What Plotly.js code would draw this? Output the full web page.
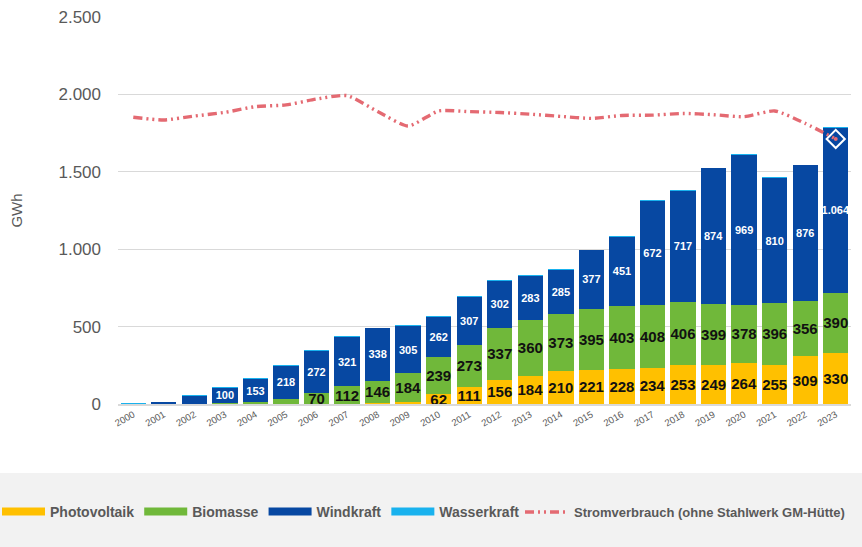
<!DOCTYPE html>
<html>
<head>
<meta charset="utf-8">
<script src="https://cdn.plot.ly/plotly-3.0.1.min.js"></script>
<style>
  html, body { margin: 0; padding: 0; }
  body { width: 862px; height: 547px; overflow: hidden;
         background: linear-gradient(to bottom, #ffffff 0px, #ffffff 473px, #f2f2f2 473px, #f2f2f2 547px); }
  #chart { width: 862px; height: 547px; }
</style>
</head>
<body>
<div id="chart"></div>
<script>
const years = ['2000','2001','2002','2003','2004','2005','2006','2007','2008','2009','2010','2011',
               '2012','2013','2014','2015','2016','2017','2018','2019','2020','2021','2022','2023'];
const photovoltaik = [0,0,0,0,0,0,1,2,5,15,62,111,156,184,210,221,228,234,253,249,264,255,309,330];
const biomasse     = [0,0,2,5,10,30,70,112,146,184,239,273,337,360,373,395,403,408,406,399,378,396,356,390];
const windkraft    = [2,10,50,100,153,218,272,321,338,305,262,307,302,283,285,377,451,672,717,874,969,810,876,1064];
const wasserkraft  = [5,5,5,5,4,5,5,5,5,5,5,5,5,5,5,5,4,5,5,5,5,5,5,5];
const stromverbrauch = [1852,1835,1860,1884,1921,1932,1970,1992,1889,1796,1893,1889,1883,1872,1858,
                        1845,1864,1866,1877,1869,1856,1893,1813,1712];
const firstLabelYear = { photovoltaik: 2010, biomasse: 2006, windkraft: 2003 };
const yTicks = [0, 500, 1000, 1500, 2000, 2500];

const colors = { photovoltaik: '#FFC000', biomasse: '#70B83A', windkraft: '#0748A2',
                 wasserkraft: '#19B2EE', strom: '#E46A72' };

const labelsFrom = (y0) => years.map(y => (+y >= y0 ? '%{y:,d}' : ''));

const darkLabel = { family: 'Liberation Sans, Arial, sans-serif', size: 15, color: '#111111', weight: 'bold' };
const lightLabel = { family: 'Liberation Sans, Arial, sans-serif', size: 11, color: '#ffffff', weight: 'bold' };

const common = { type: 'bar', x: years, textposition: 'inside', insidetextanchor: 'middle', showlegend: false,
                 constraintext: 'none', textangle: 0, hoverinfo: 'x+y+name' };

const strDash = '9px,4px,2px,4px,2px,4px';

// legend swatches (wide bars as in the original)
const swatch = (name, color) => ({ type: 'scatter', mode: 'lines', name: name, x: [null], y: [null],
                                   legend: 'legend', line: { color: color, width: 8 } });

const traces = [
  Object.assign({}, common, { name: 'Photovoltaik', y: photovoltaik, texttemplate: labelsFrom(firstLabelYear.photovoltaik),
    marker: { color: colors.photovoltaik }, textfont: darkLabel }),
  Object.assign({}, common, { name: 'Biomasse', y: biomasse, texttemplate: labelsFrom(firstLabelYear.biomasse),
    marker: { color: colors.biomasse }, textfont: darkLabel }),
  Object.assign({}, common, { name: 'Windkraft', y: windkraft, texttemplate: labelsFrom(firstLabelYear.windkraft),
    marker: { color: colors.windkraft }, textfont: lightLabel }),
  Object.assign({}, common, { name: 'Wasserkraft', y: wasserkraft, texttemplate: years.map(() => ''),
    marker: { color: colors.wasserkraft } }),
  { type: 'scatter', mode: 'lines', name: 'Stromverbrauch (ohne Stahlwerk GM-Hütte)', x: years, y: stromverbrauch,
    legend: 'legend2',
    line: { color: colors.strom, width: 3.4, dash: strDash, shape: 'spline', smoothing: 0.6 } },
  { type: 'scatter', mode: 'markers', showlegend: false, x: years.slice(-1), y: stromverbrauch.slice(-1),
    marker: { symbol: 'diamond-open', size: 14, color: '#ffffff', line: { width: 2, color: '#ffffff' } } },
  { type: 'scatter', mode: 'markers', showlegend: false, x: years.slice(-1), y: stromverbrauch.slice(-1),
    marker: { symbol: 'circle', size: 4, color: colors.strom } },
  swatch('Photovoltaik', colors.photovoltaik),
  swatch('Biomasse', colors.biomasse),
  swatch('Windkraft', colors.windkraft),
  swatch('Wasserkraft', colors.wasserkraft)
];

const legendFont = { family: 'Liberation Sans, Arial, sans-serif', size: 14, color: '#595959', weight: 'bold' };
const legend2Font = { family: 'Liberation Sans, Arial, sans-serif', size: 13, color: '#595959', weight: 'bold' };
const plotL = 118, plotW = 862 - 118 - 11, plotT = 17, plotH = 547 - 17 - 143;
const px2x = (px) => (px - plotL) / plotW;
const px2y = (py) => (plotT + plotH - py) / plotH;

const layout = {
  width: 862, height: 547,
  margin: { l: plotL, r: 11, t: plotT, b: 143, autoexpand: false },
  paper_bgcolor: 'rgba(0,0,0,0)', plot_bgcolor: 'rgba(0,0,0,0)',
  separators: ',.',
  barmode: 'stack', bargap: 0.17,
  font: { family: 'Liberation Sans, Arial, sans-serif', color: '#595959' },
  showlegend: true,
  legend: { orientation: 'h', traceorder: 'normal', x: px2x(-3), xanchor: 'left', y: px2y(512), yanchor: 'middle',
            bgcolor: 'rgba(0,0,0,0)', itemwidth: 43, itemclick: false, font: legendFont },
  legend2: { orientation: 'h', x: px2x(520), xanchor: 'left', y: px2y(512), yanchor: 'middle',
            bgcolor: 'rgba(0,0,0,0)', itemwidth: 44, itemclick: false, font: legend2Font },
  xaxis: { type: 'category', range: [-0.5, years.length - 0.5], showgrid: false, showline: true,
           linecolor: '#d9d9d9', linewidth: 1.5,
           tickangle: -30, ticks: '', tickfont: { size: 9.5, color: '#595959' }, fixedrange: true },
  yaxis: { range: [0, 2500], tickvals: yTicks, tickformat: ',d', showgrid: true, gridcolor: '#d9d9d9',
           gridwidth: 1.3, zeroline: false, ticks: '', ticklabelstandoff: 16,
           tickfont: { size: 17, color: '#595959' }, fixedrange: true,
           title: { text: 'GWh', standoff: 32, font: { size: 15, color: '#595959' } } }
};

Plotly.newPlot('chart', traces, layout, { displayModeBar: false, staticPlot: true });
</script>
</body>
</html>
